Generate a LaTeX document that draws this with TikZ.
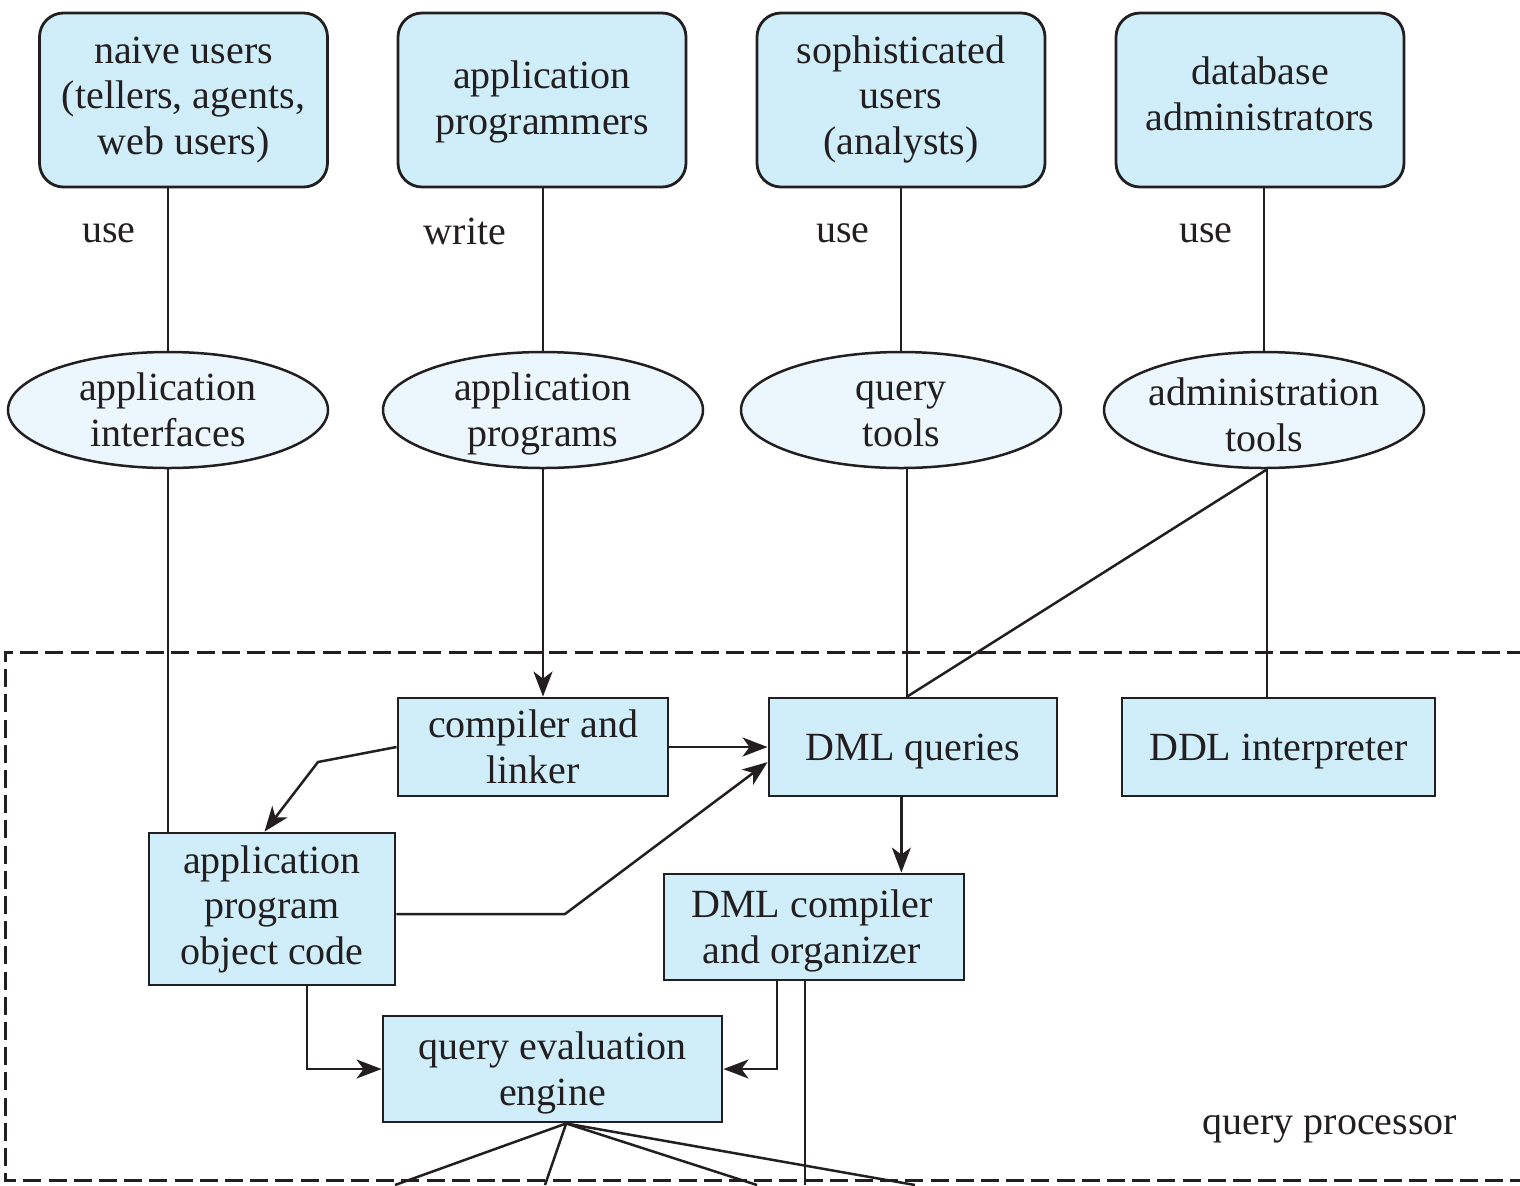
\documentclass[tikz,border=0pt]{standalone}
\usepackage{fontspec}
\setmainfont{Liberation Serif}
\usetikzlibrary{shapes.geometric,arrows.meta,calc}
\definecolor{boxfill}{HTML}{CFEEF9}
\definecolor{ellfill}{HTML}{EBF7FD}
\definecolor{ink}{HTML}{231F20}
\begin{document}
\begin{tikzpicture}[x=0.5pt,y=-0.5pt,
  txt/.style={font=\fontsize{20pt}{22.75pt}\selectfont, text=ink, align=center, inner sep=0pt},
  userbox/.style={draw=ink, line width=1.4pt, fill=boxfill, rounded corners=12pt, minimum width=144pt, minimum height=87pt, inner sep=0pt},
  toolell/.style={draw=ink, line width=1.25pt, fill=ellfill, ellipse, minimum width=160pt, minimum height=58pt, inner sep=0pt},
  procbox/.style={draw=ink, line width=1.45pt, fill=boxfill, inner sep=0pt},
  conn/.style={draw=ink, line width=1.25pt},
  arr/.style={conn, -{Stealth[length=12.5pt,width=9.5pt,inset=3.5pt]}}
]
\useasboundingbox (0,0) rectangle (1520,1185);

% top user boxes
\node[userbox] (naive) at (183.5,100) {};
\node[txt] (naiveT) at (183.5,100) {naive users\\(tellers, agents,\\web users)};
\node[userbox] (appprog) at (542,100) {};
\node[txt] (appprogT) at (542,102) {application\\programmers};
\node[userbox] (soph) at (901,100) {};
\node[txt] (sophT) at (901,99) {sophisticated\\users\\(analysts)};
\node[userbox] (dba) at (1260,100) {};
\node[txt] (dbaT) at (1260,94) {database\\administrators};

% labels
\node[txt] (use1) at (109,233) {use};
\node[txt] (write) at (465,231) {write};
\node[txt] (use2) at (843,233) {use};
\node[txt] (use3) at (1206,233) {use};

% ellipses
\node[toolell] (appif) at (168,410) {};
\node[txt] (appifT) at (168,410) {application\\interfaces};
\node[toolell] (appprogs) at (543,410) {};
\node[txt] (appprogsT) at (543,414) {application\\programs};
\node[toolell] (qtools) at (901,410) {};
\node[txt] (qtoolsT) at (901,414) {query\\tools};
\node[toolell] (admin) at (1264,410) {};
\node[txt] (adminT) at (1264,415) {administration\\tools};

% dashed query processor region
\coordinate (qpTR) at (1525,652);
\coordinate (qpTL) at (5,652);
\coordinate (qpBL) at (5,1180);
\coordinate (qpBR) at (1525,1180);
\draw[ink, line width=1.5pt, dash pattern=on 9pt off 3.6pt] (qpTR) -- (qpTL) -- (qpBL) -- (qpBR);
\node[txt] (qp) at (1330,1129) {query processor};

% processing boxes
\node[procbox, minimum width=135pt, minimum height=49pt] (compiler) at (533,747) {};
\node[txt] (compilerT) at (533,747) {compiler and\\linker};
\node[procbox, minimum width=144pt, minimum height=49pt] (dmlq) at (913,747) {};
\node[txt] (dmlqT) at (913,751) {DML queries};
\node[procbox, minimum width=156.5pt, minimum height=49pt] (ddl) at (1278.5,747) {};
\node[txt] (ddlT) at (1278.5,751) {DDL interpreter};
\node[procbox, minimum width=123pt, minimum height=76pt] (appobj) at (272,909) {};
\node[txt] (appobjT) at (272,909) {application\\program\\object code};
\node[procbox, minimum width=150pt, minimum height=53pt] (dmlcomp) at (814,927) {};
\node[txt] (dmlcompT) at (812,931) {DML compiler\\and organizer};
\node[procbox, minimum width=169.5pt, minimum height=53pt] (qeng) at (552.5,1069) {};
\node[txt] (qengT) at (552.5,1073) {query evaluation\\engine};

% user -> tool lines
\draw[conn] (naive.south -| appif) -- (appif.north);
\draw[conn] (appprog.south -| appprogs) -- (appprogs.north);
\draw[conn] (soph.south -| qtools) -- (qtools.north);
\draw[conn] (dba.south -| admin) -- (admin.north);

% tool -> processing
\draw[conn] (appif.south) -- (appif.south |- appobj.north);
\draw[arr] (appprogs.south) -- (appprogs.south |- compiler.north);
\coordinate (dmlqtop) at ($(dmlq.north west)!0.48!(dmlq.north east)$);
\draw[conn] (dmlqtop |- qtools.south) -- (dmlqtop);
\coordinate (ddltop) at ($(ddl.north west)!0.464!(ddl.north east)$);
\coordinate (adminB) at (ddltop |- admin.south);
\draw[conn] (adminB) -- (ddltop);
\draw[conn] (adminB) -- (dmlqtop);

% internal connectors
\draw[arr] (compiler.east) -- (dmlq.west);
\coordinate (bendA) at (318,762);
\draw[arr] (compiler.west) -- (bendA) -- ($(appobj.north west)!0.47!(appobj.north east)$);
\coordinate (objR) at ($(appobj.east)+(0,5)$);
\coordinate (bendB) at (565,914);
\draw[arr] (objR) -- (bendB) -- ($(dmlq.south west)!0.35!(dmlq.north west)$);
\coordinate (dmlqB) at ($(dmlq.south west)!0.46!(dmlq.south east)$);
\draw[arr] (dmlqB) -- (dmlqB |- dmlcomp.north);
\draw[arr] ($(appobj.south west)!0.64!(appobj.south east)$) |- (qeng.west);
\draw[arr] ($(dmlcomp.south west)!0.377!(dmlcomp.south east)$) |- (qeng.east);
\coordinate (dmlcompB) at ($(dmlcomp.south west)!0.47!(dmlcomp.south east)$);
\coordinate (downA) at (dmlcompB |- 0,1185);
\draw[conn] (dmlcompB) -- (downA);

% lines leaving the query evaluation engine
\coordinate (qengB) at ($(qeng.south west)!0.54!(qeng.south east)$);
\coordinate (outA) at (395,1185);
\coordinate (outB) at (545,1185);
\coordinate (outC) at (757,1185);
\coordinate (outD) at (915,1185);
\draw[conn] (qengB) -- (outA);
\draw[conn] (qengB) -- (outB);
\draw[conn] (qengB) -- (outC);
\draw[conn] (qengB) -- (outD);
\end{tikzpicture}
\end{document}
